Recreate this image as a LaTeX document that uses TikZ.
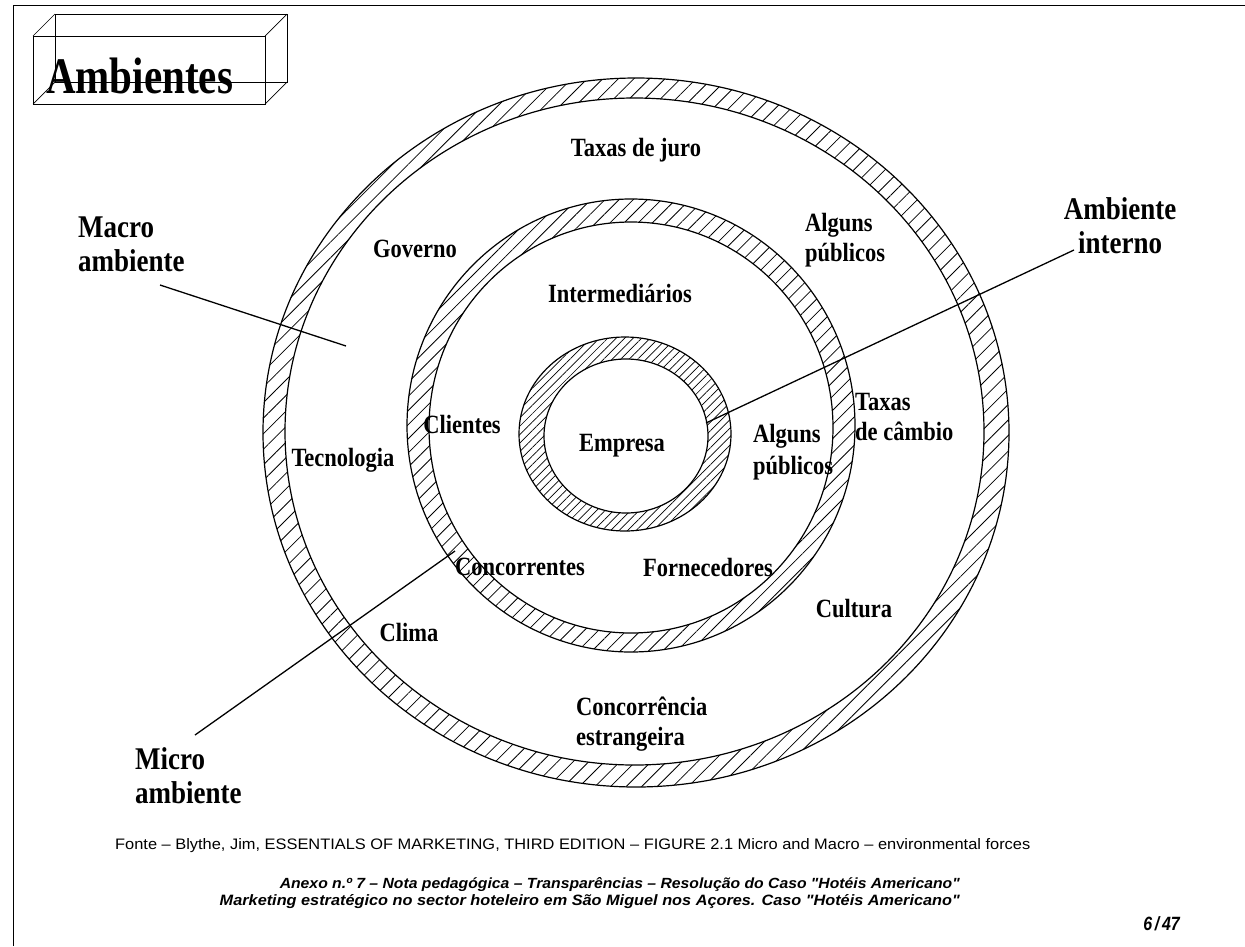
\documentclass[tikz,border=0pt]{standalone}
\usepackage{graphicx}
\usepackage{fontspec}
\setmainfont{Liberation Serif}
\newfontfamily\arialfont{Liberation Sans}
\usetikzlibrary{patterns.meta}
% taller letter shapes for the diagram labels
\newcommand{\vstretch}[1]{\scalebox{1}[1.17]{#1}}

\begin{document}
\begin{tikzpicture}[x=1pt,y=-1pt,
  ringlabel/.style={font=\fontsize{22.5}{30}\selectfont\bfseries, inner sep=0pt, align=left},
  biglabel/.style={font=\fontsize{27}{34}\selectfont\bfseries, inner sep=0pt},
  rimline/.style={line width=1.2pt},
  leader/.style={line width=1.3pt},
  boxedge/.style={line width=0.7pt},
  hatchwide/.style={pattern={Lines[angle=45,distance=11pt,line width=0.8pt]}},
  hatchmid/.style={pattern={Lines[angle=45,distance=10pt,line width=0.8pt]}},
  hatchfine/.style={pattern={Lines[angle=45,distance=6pt,line width=0.7pt]}}]

\useasboundingbox (0,0) rectangle (1245,946);
\fill[white] (0,0) rectangle (1245,946);

% page frame (top and left rules)
\draw[line width=0.8pt] (13,946) -- (13,5) -- (1245,5);

% wire-frame title box
\coordinate (fa) at (33,36);  \coordinate (fb) at (265,36);
\coordinate (fc) at (265,104); \coordinate (fd) at (33,104);
\coordinate (ba) at (55,14);  \coordinate (bb) at (287,14);
\coordinate (bc) at (287,82); \coordinate (bd) at (55,82);
\draw[boxedge] (fa) -- (fb) -- (fc) -- (fd) -- cycle;
\draw[boxedge] (ba) -- (bb) -- (bc) -- (bd) -- cycle;
\draw[boxedge] (fa) -- (ba) (fb) -- (bb) (fc) -- (bc) (fd) -- (bd);
\node[anchor=base west, inner sep=0pt, font=\fontsize{41}{44}\selectfont\bfseries] (title) at (46,93) {\scalebox{1}[1.25]{Ambientes}};

% outer ring: macro environment
\fill[hatchwide, even odd rule]
  (636,432.5) ellipse [x radius=373pt, y radius=354.5pt]
  (634.5,431.5) ellipse [x radius=349.5pt, y radius=333.5pt];
\draw[rimline] (636,432.5) ellipse [x radius=373pt, y radius=354.5pt];
\draw[rimline] (634.5,431.5) ellipse [x radius=349.5pt, y radius=333.5pt];

% middle ring: micro environment
\fill[hatchmid, even odd rule]
  (631,425.5) ellipse [x radius=224pt, y radius=226.5pt]
  (631,427.5) ellipse [x radius=202pt, y radius=205.5pt];
\draw[rimline] (631,425.5) ellipse [x radius=224pt, y radius=226.5pt];
\draw[rimline] (631,427.5) ellipse [x radius=202pt, y radius=205.5pt];

% inner ring: internal environment
\fill[hatchfine, even odd rule]
  (625,434) ellipse [x radius=106pt, y radius=97pt]
  (626,436) ellipse [x radius=82pt, y radius=77pt];
\draw[rimline] (625,434) ellipse [x radius=106pt, y radius=97pt];
\draw[rimline] (626,436) ellipse [x radius=82pt, y radius=77pt];

% ring labels
\node[ringlabel] (juro)   at (636,150) {\vstretch{Taxas de juro}};
\node[ringlabel] (gov)    at (415,249) {\vstretch{Governo}};
\node[ringlabel, anchor=west] (pub1) at (805,240) {\vstretch{Alguns}\\\vstretch{públicos}};
\node[ringlabel] (inter)  at (620,293) {\vstretch{Intermediários}};
\node[ringlabel] (cli)    at (462,424) {\vstretch{Clientes}};
\node[ringlabel] (emp)    at (622,446) {\vstretch{Empresa}};
\node[ringlabel] (tec)    at (343,460) {\vstretch{Tecnologia}};
\node[ringlabel, anchor=west, font=\fontsize{22.5}{32}\selectfont\bfseries] (pub2) at (753,452) {\vstretch{Alguns}\\\vstretch{públicos}};
\node[ringlabel, anchor=west] (cambio) at (855,417) {\vstretch{Taxas}\\\vstretch{de câmbio}};
\node[ringlabel] (conc)   at (520,567) {\vstretch{Concorrentes}};
\node[ringlabel] (forn)   at (708,567) {\vstretch{Fornecedores}};
\node[ringlabel] (cult)   at (854,609) {\vstretch{Cultura}};
\node[ringlabel] (clima)  at (409,632) {\vstretch{Clima}};
\node[ringlabel, anchor=west] (estr) at (576,724) {\vstretch{Concorrência}\\\vstretch{estrangeira}};

% outside labels and their leaders
\node[biglabel, anchor=west, align=left] (macro) at (78,244) {\vstretch{Macro}\\\vstretch{ambiente}};
\coordinate (macroA) at (160,285);
\coordinate (macroB) at (346,346);
\draw[leader] (macroA) -- (macroB);

\node[biglabel, align=center] (interno) at (1120,226) {\vstretch{Ambiente}\\\vstretch{interno}};
\coordinate (intA) at (1074,250);
\coordinate (intB) at (706,423);
\draw[leader] (intA) -- (intB);

\node[biglabel, anchor=west, align=left] (micro) at (135,776) {\vstretch{Micro}\\\vstretch{ambiente}};
\coordinate (microA) at (195,735);
\coordinate (microB) at (455,551);
\draw[leader] (microA) -- (microB);

% footer
\node[anchor=west, inner sep=0pt] (fonte) at (115,846)
  {\resizebox{915pt}{11pt}{\arialfont Fonte – Blythe, Jim, ESSENTIALS OF MARKETING, THIRD EDITION – FIGURE 2.1 Micro and Macro – environmental forces}};
\node[anchor=east, inner sep=0pt] (anexo) at (960,885)
  {\resizebox{680pt}{11pt}{\arialfont\bfseries\itshape Anexo n.º 7 – Nota pedagógica – Transparências – Resolução do Caso "Hotéis Americano"}};
\node[anchor=east, inner sep=0pt] (mkt) at (960,902)
  {\resizebox{740pt}{11pt}{\arialfont\bfseries\itshape Marketing estratégico no sector hoteleiro em São Miguel nos Açores. Caso "Hotéis Americano"}};
\node[anchor=east, inner sep=0pt, font=\arialfont\bfseries\itshape\fontsize{16}{18}\selectfont] (page) at (1180,924) {\scalebox{1}[1.2]{6\,/\,47}};
\end{tikzpicture}
\end{document}
